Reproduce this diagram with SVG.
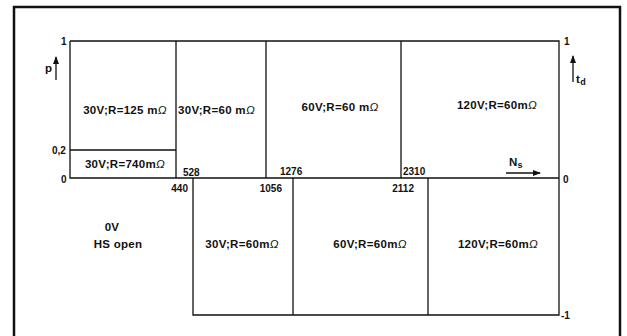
<svg xmlns="http://www.w3.org/2000/svg" width="627" height="336" viewBox="0 0 627 336">
<defs>
<style>
.ln{stroke:#111;stroke-width:1.3;fill:none}
.frame{stroke:#111;stroke-width:2.5;fill:none}
.t{font-family:"Liberation Sans",Arial,sans-serif;font-size:11.5px;font-weight:bold;fill:#111;letter-spacing:0.3px}
.n{font-family:"Liberation Sans",Arial,sans-serif;font-size:10px;font-weight:bold;fill:#111}
.m{font-style:italic;font-weight:normal}
</style>
<marker id="ah" viewBox="0 0 8 6" refX="7" refY="3" markerWidth="8" markerHeight="6" markerUnits="userSpaceOnUse" orient="auto">
<path d="M0,0 L8,3 L0,6 z" fill="#111"/>
</marker>
</defs>
<rect width="627" height="336" fill="#fff"/>
<path class="frame" d="M14,336 V7 H620 V336"/>
<g id="connectors">
<path class="ln" d="M70,41 H559 V315 H193 V178"/>
<path class="ln" d="M70,41 V178 H559"/>
<path class="ln" d="M70,150 H176"/>
<path class="ln" d="M176,41 V178 M266,41 V178 M401,41 V178"/>
<path class="ln" d="M293,178 V315 M428,178 V315"/>
<path class="ln" d="M56,80 V57" marker-end="url(#ah)"/>
<path class="ln" d="M573,82 V56" marker-end="url(#ah)"/>
<path class="ln" d="M506,173 H540" marker-end="url(#ah)"/>
</g>
<g id="axis-left">
<text class="n" x="61" y="45">1</text>
<text class="t" x="45" y="72">p</text>
<text class="n" x="52" y="154">0,2</text>
<text class="n" x="61" y="183">0</text>
</g>
<g id="axis-right">
<text class="n" x="564" y="45">1</text>
<text class="t" x="576" y="83">t<tspan font-size="9" dy="2">d</tspan></text>
<text class="n" x="563" y="183">0</text>
<text class="n" x="561" y="319">-1</text>
<text class="t" x="509" y="166">N<tspan font-size="9" dy="2">s</tspan></text>
</g>
<g id="ticks">
<text class="n" x="183" y="176">528</text>
<text class="n" x="280" y="175">1276</text>
<text class="n" x="403" y="175">2310</text>
<text class="n" x="188" y="192" text-anchor="end">440</text>
<text class="n" x="282" y="192" text-anchor="end">1056</text>
<text class="n" x="414" y="192" text-anchor="end">2112</text>
</g>
<g id="n1"><text class="t" x="125" y="114" text-anchor="middle">30V;R=125 m<tspan class="m">Ω</tspan></text></g>
<g id="n2"><text class="t" x="125" y="168" text-anchor="middle">30V;R=740m<tspan class="m">Ω</tspan></text></g>
<g id="n3"><text class="t" x="178" y="114">30V;R=60 m<tspan class="m">Ω</tspan></text></g>
<g id="n4"><text class="t" x="340" y="111" text-anchor="middle">60V;R=60 m<tspan class="m">Ω</tspan></text></g>
<g id="n5"><text class="t" x="497" y="109" text-anchor="middle">120V;R=60m<tspan class="m">Ω</tspan></text></g>
<g id="n6"><text class="t" x="112" y="231" text-anchor="middle">0V</text><text class="t" x="118" y="248" text-anchor="middle">HS open</text></g>
<g id="n7"><text class="t" x="242" y="248" text-anchor="middle">30V;R=60m<tspan class="m">Ω</tspan></text></g>
<g id="n8"><text class="t" x="370" y="248" text-anchor="middle">60V;R=60m<tspan class="m">Ω</tspan></text></g>
<g id="n9"><text class="t" x="498" y="248" text-anchor="middle">120V;R=60m<tspan class="m">Ω</tspan></text></g>
</svg>
